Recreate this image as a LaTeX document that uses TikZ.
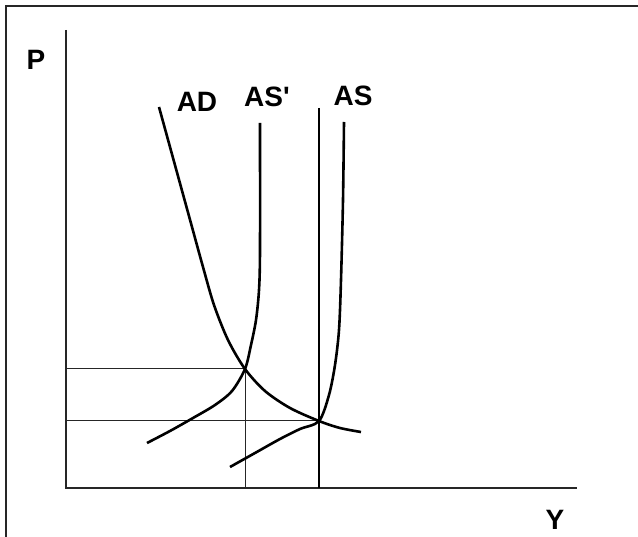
\documentclass[tikz,border=0pt]{standalone}
\usepackage{fontspec}
\newfontfamily\lblfont{Liberation Sans}
\begin{document}
\begin{tikzpicture}[x=1pt,y=-1pt,
  frameline/.style={line width=1.5pt,black!85},
  axisline/.style={line width=1.3pt,black!85},
  guideline/.style={line width=1pt,black!85},
  curveline/.style={line width=2.6pt,black,line join=round},
  lbl/.style={font=\lblfont\bfseries\fontsize{28}{28}\selectfont,inner sep=0pt}]
\useasboundingbox (0,0) rectangle (638,537);
% frame
\draw[frameline] (6,537) -- (6,6) -- (638,6);
% axes
\coordinate (top) at (66,30);
\coordinate (O) at (66,488);
\coordinate (xend) at (577,488);
\draw[axisline] (top) -- (O) -- (xend);
% guide lines
\coordinate (E1) at (245,369);
\coordinate (E2) at (319,421);
\draw[guideline] (66,369) -- (E1) -- (245,488);
\draw[guideline] (66,421) -- (E2);
% vertical long-run line
\draw[curveline] (319,108) -- (319,488);
% AD
\draw[curveline] plot[smooth,tension=0.5] coordinates {(159,107) (170,147) (181,187) (192,227) (203,267) (214,305) (228,340) (245,369) (265,391) (290,408) (319,421) (340,428) (361,432)};
% AS'
\draw[curveline] plot[smooth,tension=0.5] coordinates {(260,123) (260,250) (259,290) (256,320) (251,345) (245,369) (232,391) (215,405) (193,418) (170,431) (147,443)};
% AS
\draw[curveline] plot[smooth,tension=0.5] coordinates {(344,122) (343,200) (341,280) (339,330) (335,365) (329,395) (319,421) (300,429) (280,439) (255,453) (230,467)};
% labels
\node[lbl] (P) at (36,60) {P};
\node[lbl] (AD) at (197,102) {AD};
\node[lbl] (ASp) at (267,97) {AS'};
\node[lbl] (AS) at (353,96) {AS};
\node[lbl] (Y) at (555,520) {Y};
\end{tikzpicture}
\end{document}
